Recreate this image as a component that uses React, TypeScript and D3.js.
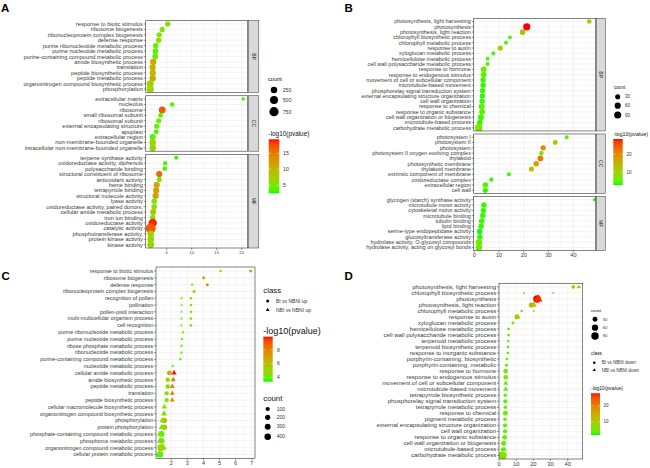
import React from "react";
import * as d3 from "d3";

const FONT = "'Liberation Sans', Arial, Helvetica, sans-serif";
const GRID = "#ebebeb";
const BORDER = "#333333";
const TXT = "#3a3a3a";

// ---------------- Panel A ----------------
const aBPCats = ["response to biotic stimulus", "ribosome biogenesis", "ribonucleoprotein complex biogenesis", "defense response", "purine ribonucleotide metabolic process", "purine nucleotide metabolic process", "purine-containing compound metabolic process", "amide biosynthetic process", "translation", "peptide biosynthetic process", "peptide metabolic process", "organonitrogen compound biosynthetic process", "phosphorylation"];
const aBPX = [5.2, 4.1, 3.5, 3.4, 2.8, 2.75, 2.7, 2.3, 2.2, 2.2, 2.2, 1.7, 1.7];
const aBPP = [6, 5.5, 5.5, 6, 4, 4, 4, 11, 10, 10, 10.5, 7.5, 7];
const aBPN = [120, 110, 130, 140, 150, 160, 170, 230, 220, 225, 240, 330, 360];

const aCCCats = ["extracellular matrix", "nucleolus", "ribosome", "small ribosomal subunit", "ribosomal subunit", "external encapsulating structure", "apoplast", "extracellular region", "non-membrane-bounded organelle", "intracellular non-membrane-bounded organelle"];
const aCCX = [20.3, 6.1, 4.1, 3.8, 3.4, 3.0, 2.9, 2.2, 2.2, 2.2];
const aCCP = [3, 3.5, 17, 4, 4.5, 4, 3.5, 3.5, 7, 7];
const aCCN = [25, 70, 300, 90, 110, 100, 95, 200, 260, 255];

const aMFCats = ["terpene synthase activity", "oxidoreductase activity,  diphenols", "polysaccharide binding", "structural constituent of ribosome", "antioxidant activity", "heme binding", "tetrapyrrole binding", "structural molecule activity", "lyase activity", "oxidoreductase activity,  paired donors,", "cellular amide metabolic process", "iron ion binding", "oxidoreductase activity", "catalytic activity", "phosphotransferase activity,", "protein kinase activity", "kinase activity"];
const aMFX = [6.9, 4.7, 4.6, 3.5, 3.5, 3.0, 2.9, 2.8, 2.5, 2.5, 2.3, 2.2, 2.2, 1.8, 1.8, 1.8, 1.8];
const aMFP = [3, 3.5, 3.5, 16, 4.5, 12, 12, 11.5, 4.5, 5.5, 9, 5, 19, 17, 7, 7, 7];
const aMFN = [45, 60, 75, 220, 110, 200, 210, 230, 130, 150, 200, 140, 560, 950, 300, 290, 310];

const aTicks = [5, 10, 15, 20];
const aMinor = [2.5, 7.5, 12.5, 17.5];
const aCountLegend = [250, 500, 750];
const aColorTicks = [5, 10, 15];

// ---------------- Panel B ----------------
const bBPCats = ["photosynthesis, light harvesting", "photosynthesis", "photosynthesis, light reaction", "chlorophyll biosynthetic process", "chlorophyll metabolic process", "response to auxin", "xyloglucan metabolic process", "hemicellulose metabolic process", "cell wall polysaccharide metabolic process", "response to hormone", "response to endogenous stimulus", "movement of cell or subcellular component", "microtubule-based movement", "phosphorelay signal transduction system", "external encapsulating structure organization", "cell wall organization", "response to chemical", "response to organic substance", "cell wall organization or biogenesis", "microtubule-based process", "carbohydrate metabolic process"];
const bBPX = [46.4, 21.2, 19.5, 14.4, 12.8, 10.5, 7.7, 5.4, 5.4, 3.8, 3.8, 3.6, 3.6, 3.4, 3.3, 3.2, 3.0, 3.2, 2.7, 2.3, 1.8];
const bBPP = [12, 28.5, 13, 4, 4.5, 11, 4, 4, 4, 6, 5, 3.5, 3.5, 3.5, 3.5, 3.5, 5, 4.5, 4, 3.5, 7];
const bBPN = [20, 100, 45, 10, 12, 35, 12, 10, 11, 45, 45, 35, 35, 35, 35, 35, 55, 50, 55, 40, 115];

const bCCCats = ["photosystem I", "photosystem II", "photosystem", "photosystem II oxygen evolving complex", "thylakoid", "photosynthetic membrane", "thylakoid membrane", "extrinsic component of membrane", "oxidoreductase complex", "extracellular region", "cell wall"];
const bCCX = [37.3, 32.7, 27.8, 27.1, 26.7, 25, 23.1, 14, 6.9, 4.5, 4.5];
const bCCP = [4, 12, 20, 7, 22, 17, 12, 4, 3.5, 4.5, 3.5];
const bCCN = [10, 25, 35, 20, 45, 40, 30, 15, 15, 40, 35];

const bMFCats = ["glycogen (starch) synthase activity", "microtubule motor activity", "cytoskeletal motor activity", "microtubule binding", "tubulin binding", "lipid binding", "serine-type endopeptidase activity", "glucosyltransferase activity", "hydrolase activity,  O-glycosyl compounds", "hydrolase activity,  acting on glycosyl bonds"];
const bMFX = [48.6, 3.9, 3.7, 3.5, 3.0, 2.8, 2.2, 2.3, 1.9, 1.9];
const bMFP = [3, 3.5, 3.5, 3.5, 3.5, 3.5, 3, 3.5, 6, 6];
const bMFN = [6, 35, 35, 40, 40, 40, 40, 40, 70, 75];

const bTicks = [0, 10, 20, 30, 40];
const bMinor = [5, 15, 25, 35, 45];
const bCountLegend = [30, 60, 90];
const bColorTicks = [10, 20];

// ---------------- Panel C ----------------
const cCats = ["response to biotic stimulus", "ribosome biogenesis", "defense response", "ribonucleoprotein complex biogenesis", "recognition of pollen", "pollination", "pollen-pistil interaction", "multi-multicellular organism process", "cell recognition", "purine ribonucleotide metabolic process", "purine nucleotide metabolic process", "ribose phosphate metabolic process", "ribonucleotide metabolic process", "purine-containing compound metabolic process", "nucleotide metabolic process", "cellular amide metabolic process", "amide biosynthetic process", "peptide metabolic process", "translation", "peptide biosynthetic process", "cellular macromolecule biosynthetic process", "organonitrogen compound biosynthetic process", "phosphorylation", "protein phosphorylation", "phosphate-containing compound metabolic process", "phosphorus metabolic process", "organonitrogen compound metabolic process", "cellular protein metabolic process"];
const cBIX = [6.93, 4.01, 4.24, 3.41, 3.22, 3.22, 3.22, 3.22, 3.22, null, null, null, null, null, null, 1.88, 1.78, 1.78, 1.71, 1.71, null, null, 1.57, 1.57, 1.4, 1.4, 1.35, 1.3];
const cBIP = [7.5, 6.5, 7.5, 5.5, 4.5, 4.5, 4.5, 4.5, 4.5, null, null, null, null, null, null, 6.5, 5, 5, 4.5, 4.5, null, null, 6, 6, 4.2, 4.2, 5.5, 4];
const cBIN = [25, 30, 30, 30, 20, 20, 20, 20, 20, null, null, null, null, null, null, 150, 120, 120, 110, 110, null, null, 250, 230, 300, 300, 450, 380];
const cNBIX = [5.07, null, 3.29, null, 2.64, 2.64, 2.64, 2.64, 2.64, 2.73, 2.66, 2.64, 2.64, 2.56, 2.09, 2.17, 2.12, 2.06, 2.06, 2.06, 1.57, 1.55, 1.44, 1.4, 1.3, 1.3, 1.5, 1.25];
const cNBIP = [5, null, 4.5, null, 4, 4, 4, 4, 4, 4.5, 4.2, 4, 4, 4.2, 3.6, 9.8, 8.3, 8, 8, 8, 4.5, 4.5, 4.5, 4, 4, 4, 5, 3.8];
const cNBIN = [20, null, 20, null, 15, 15, 15, 15, 15, 20, 20, 18, 18, 22, 15, 110, 90, 90, 80, 80, 120, 150, 150, 140, 180, 180, 300, 250];

const cTicks = [2, 3, 4, 5, 6, 7];
const cMinor = [1.5, 2.5, 3.5, 4.5, 5.5, 6.5];
const cCountLegend = [100, 200, 300, 400];
const cColorTicks = [4, 6, 8];
const cClasses = ["BI vs NBNI up", "NBI vs NBNI up"];

// ---------------- Panel D ----------------
const dCats = ["photosynthesis, light harvesting", "chlorophyll biosynthetic process", "photosynthesis", "photosynthesis, light reaction", "chlorophyll metabolic process", "response to auxin", "xyloglucan metabolic process", "hemicellulose metabolic process", "cell wall polysaccharide metabolic process", "terpenoid metabolic process", "terpenoid biosynthetic process", "response to inorganic substance", "porphyrin-containing, biosynthetic", "porphyrin-containing, metabolic", "response to hormone", "response to endogenous stimulus", "movement of cell or subcellular component", "microtubule-based movement", "tetrapyrrole biosynthetic process", "phosphorelay signal transduction system", "tetrapyrrole metabolic process", "response to chemical", "pigment metabolic process", "external encapsulating structure organization", "cell wall organization", "response to organic substance", "cell wall organization or biogenesis", "microtubule-based process", "carbohydrate metabolic process"];
const dBIX = [43.2, 14.5, 22.1, 18.8, 13.2, 10.3, 8.1, 5.6, 5.6, 5.4, 5.2, 5.2, 4.6, 4.3, 3.9, 3.9, null, null, 3.7, 3.7, 3.7, 3.7, 3.5, 3.5, 3.5, 3.3, 2.7, 2.3, 2.2];
const dBIP = [12, 4, 28, 12, 4.5, 11, 4, 4, 4, 3.5, 3.5, 3.5, 4, 4, 6, 5, null, null, 3.5, 3.5, 3.5, 5, 3.5, 3.5, 3.5, 4.5, 4, 3.5, 7];
const dBIN = [14, 6, 95, 35, 7, 28, 8, 7, 8, 7, 7, 7, 8, 9, 25, 25, null, null, 12, 18, 13, 30, 14, 20, 20, 28, 32, 22, 110];
const dNBIX = [46.5, 31.6, 22.8, 20.3, 20.3, 11.0, null, null, null, null, null, null, null, null, null, null, 3.9, 3.9, null, null, null, null, null, null, null, null, null, 3.3, null];
const dNBIP = [10, 4, 27, 12, 4.5, 10, null, null, null, null, null, null, null, null, null, null, 3.5, 3.5, null, null, null, null, null, null, null, null, null, 3.5, null];
const dNBIN = [12, 6, 80, 30, 6, 24, null, null, null, null, null, null, null, null, null, null, 18, 18, null, null, null, null, null, null, null, null, null, 14, null];

const dTicks = [0, 10, 20, 30, 40];
const dMinor = [5, 15, 25, 35, 45];
const dCountLegend = [30, 60, 90];
const dColorTicks = [10, 20];
const dClasses = ["BI vs NBNI down", "NBI vs NBNI down"];

// ---------------- helpers ----------------
type Pt = { cat: string; x: number; p: number; n: number; shape: "circle" | "triangle" };

function pts(cats: string[], xs: (number | null)[], ps: (number | null)[], ns: (number | null)[], shape: "circle" | "triangle"): Pt[] {
  const out: Pt[] = [];
  cats.forEach((c, i) => {
    if (xs[i] != null) out.push({ cat: c, x: xs[i] as number, p: ps[i] as number, n: ns[i] as number, shape });
  });
  return out;
}

function makeColor(lo: number, hi: number) {
  const s = d3.scaleLinear<string>().domain([lo, hi]).range(["#00ff00", "#ff0000"]).interpolate(d3.interpolateLab).clamp(true);
  return (v: number) => s(v);
}

function makeSize(d0: number, d1: number, r0: number, r1: number) {
  const t = d3.scaleLinear().domain([d0, d1]).range([0, 1]).clamp(true);
  const r = d3.scaleLinear().domain([0, 1]).range([r0, r1]);
  return (v: number) => r(Math.sqrt(t(v)));
}

function triPath(r: number) {
  return d3.symbol().type(d3.symbolTriangle).size(Math.PI * r * r * 0.85)() as string;
}

function Mark({ shape, cx, cy, r, fill }: { shape: string; cx: number; cy: number; r: number; fill: string }) {
  if (shape === "circle") return <circle cx={cx} cy={cy} r={r} fill={fill} />;
  return <path transform={`translate(${cx},${cy})`} d={triPath(r)} fill={fill} />;
}

type Facet = { name?: string; cats: string[]; points: Pt[] };

function DotPanel(props: {
  id: string; facets: Facet[]; top: number; bottom: number; gap: number; left: number; right: number;
  xDomain: [number, number]; majors: number[]; minors: number[]; tickFs: number; tickY: number;
  labelFs: number; color: (v: number) => string; size: (v: number) => number; stripW?: number;
}) {
  const { id, facets, top, bottom, gap, left, right, xDomain, majors, minors, tickFs, tickY, labelFs, color, size, stripW = 10 } = props;
  const x = d3.scaleLinear().domain(xDomain).range([left, right]);
  const total = d3.sum(facets, (f) => f.cats.length + 0.2);
  const step = (bottom - top - gap * (facets.length - 1)) / total;
  let cur = top;
  const laid = facets.map((f, fi) => {
    const h = (f.cats.length + 0.2) * step;
    const y = d3.scalePoint<string>().domain(f.cats).range([cur, cur + h]).padding(0.6);
    const o = { f, y, y0: cur, y1: cur + h, fi };
    cur += h + gap;
    return o;
  });
  const last = laid[laid.length - 1];
  return (
    <g>
      {laid.map(({ f, y, y0, y1, fi }) => {
        const cid = `${id}-clip-${fi}`;
        return (
          <g key={fi}>
            <defs>
              <clipPath id={cid}>
                <rect x={left} y={y0} width={right - left} height={y1 - y0} />
              </clipPath>
            </defs>
            <rect x={left} y={y0} width={right - left} height={y1 - y0} fill="#fff" />
            {minors.map((v) => (
              <line key={"m" + v} x1={x(v)} x2={x(v)} y1={y0} y2={y1} stroke={GRID} strokeWidth={0.3} />
            ))}
            {majors.map((v) => (
              <line key={"M" + v} x1={x(v)} x2={x(v)} y1={y0} y2={y1} stroke={GRID} strokeWidth={0.6} />
            ))}
            {f.cats.map((c) => (
              <line key={"h" + c} x1={left} x2={right} y1={y(c)} y2={y(c)} stroke={GRID} strokeWidth={0.6} />
            ))}
            <g clipPath={`url(#${cid})`}>
              {f.points.map((p, i) => (
                <Mark key={i} shape={p.shape} cx={x(p.x)} cy={y(p.cat) as number} r={size(p.n)} fill={color(p.p)} />
              ))}
            </g>
            <rect x={left} y={y0} width={right - left} height={y1 - y0} fill="none" stroke={BORDER} strokeWidth={0.6} />
            {f.cats.map((c) => (
              <g key={"t" + c}>
                <line x1={left - 2} x2={left} y1={y(c)} y2={y(c)} stroke={BORDER} strokeWidth={0.5} />
                <text x={left - 2.8} y={y(c)} dy="0.35em" textAnchor="end" fontSize={labelFs} fill={TXT}>
                  {c}
                </text>
              </g>
            ))}
            {f.name && (
              <g>
                <rect x={right + 0.6} y={y0} width={stripW} height={y1 - y0} fill="#d9d9d9" stroke={BORDER} strokeWidth={0.5} />
                <text
                  transform={`translate(${right + 0.6 + stripW / 2},${(y0 + y1) / 2}) rotate(90)`}
                  textAnchor="middle"
                  dy="0.35em"
                  fontSize={5}
                  fill="#1a1a1a"
                >
                  {f.name}
                </text>
              </g>
            )}
          </g>
        );
      })}
      {majors.map((v) => (
        <g key={"xt" + v}>
          <line x1={x(v)} x2={x(v)} y1={last.y1} y2={last.y1 + 2} stroke={BORDER} strokeWidth={0.5} />
          <text x={x(v)} y={tickY} textAnchor="middle" fontSize={tickFs} fill={TXT}>
            {v}
          </text>
        </g>
      ))}
    </g>
  );
}

function ColorBar(props: { id: string; x: number; y: number; w: number; h: number; lo: number; hi: number; ticks: number[]; color: (v: number) => string; fs: number; labelX: number }) {
  const { id, x, y, w, h, lo, hi, ticks, color, fs, labelX } = props;
  const sc = d3.scaleLinear().domain([lo, hi]).range([y + h, y]);
  const stops = d3.range(0, 21).map((i) => i / 20);
  return (
    <g>
      <defs>
        <linearGradient id={id} x1="0" y1="1" x2="0" y2="0">
          {stops.map((t) => (
            <stop key={t} offset={t} stopColor={color(lo + t * (hi - lo))} />
          ))}
        </linearGradient>
      </defs>
      <rect x={x} y={y} width={w} height={h} fill={`url(#${id})`} />
      {ticks.map((v) => (
        <g key={v}>
          <line x1={x} x2={x + w * 0.2} y1={sc(v)} y2={sc(v)} stroke="#fff" strokeWidth={0.5} />
          <line x1={x + w * 0.8} x2={x + w} y1={sc(v)} y2={sc(v)} stroke="#fff" strokeWidth={0.5} />
          <text x={labelX} y={sc(v)} dy="0.35em" fontSize={fs} fill="#333">
            {v}
          </text>
        </g>
      ))}
    </g>
  );
}

function SizeLegend(props: { title: string; titleFs: number; tx: number; ty: number; dx: number; ys: number[]; values: number[]; size: (v: number) => number; labelX: number; fs: number }) {
  const { title, titleFs, tx, ty, dx, ys, values, size, labelX, fs } = props;
  return (
    <g>
      <text x={tx} y={ty} fontSize={titleFs} fill="#111">
        {title}
      </text>
      {values.map((v, i) => (
        <g key={v}>
          <circle cx={dx} cy={ys[i]} r={size(v)} fill="#000" />
          <text x={labelX} y={ys[i]} dy="0.35em" fontSize={fs} fill="#333">
            {v}
          </text>
        </g>
      ))}
    </g>
  );
}

function ClassLegend(props: { tx: number; ty: number; titleFs: number; dx: number; ys: number[]; labels: string[]; labelX: number; fs: number; r: number }) {
  const { tx, ty, titleFs, dx, ys, labels, labelX, fs, r } = props;
  return (
    <g>
      <text x={tx} y={ty} fontSize={titleFs} fill="#111">
        class
      </text>
      {labels.map((l, i) => (
        <g key={l}>
          <Mark shape={i === 0 ? "circle" : "triangle"} cx={dx} cy={ys[i]} r={r} fill="#000" />
          <text x={labelX} y={ys[i]} dy="0.35em" fontSize={fs} fill="#333">
            {l}
          </text>
        </g>
      ))}
    </g>
  );
}

export default function App() {
  // Panel A
  const aColor = makeColor(2.5, 19.4);
  const aSize = makeSize(20, 950, 1.5, 5.0);
  const aFacets: Facet[] = [
    { name: "BP", cats: aBPCats, points: pts(aBPCats, aBPX, aBPP, aBPN, "circle") },
    { name: "CC", cats: aCCCats, points: pts(aCCCats, aCCX, aCCP, aCCN, "circle") },
    { name: "MF", cats: aMFCats, points: pts(aMFCats, aMFX, aMFP, aMFN, "circle") },
  ];
  // Panel B
  const bColor = makeColor(2.9, 28.5);
  const bSize = makeSize(5, 115, 1.4, 3.8);
  const bFacets: Facet[] = [
    { name: "BP", cats: bBPCats, points: pts(bBPCats, bBPX, bBPP, bBPN, "circle") },
    { name: "CC", cats: bCCCats, points: pts(bCCCats, bCCX, bCCP, bCCN, "circle") },
    { name: "MF", cats: bMFCats, points: pts(bMFCats, bMFX, bMFP, bMFN, "circle") },
  ];
  // Panel C
  const cColor = makeColor(3.4, 9.9);
  const cSize = makeSize(15, 450, 1.1, 3.4);
  const cFacets: Facet[] = [
    { cats: cCats, points: [...pts(cCats, cBIX, cBIP, cBIN, "circle"), ...pts(cCats, cNBIX, cNBIP, cNBIN, "triangle")] },
  ];
  // Panel D
  const dColor = makeColor(1.5, 28);
  const dSize = makeSize(6, 110, 1.0, 4.0);
  const dFacets: Facet[] = [
    { cats: dCats, points: [...pts(dCats, dBIX, dBIP, dBIN, "circle"), ...pts(dCats, dNBIX, dNBIP, dNBIN, "triangle")] },
  ];

  return (
    <svg
      width={650}
      height={468}
      viewBox="0 0 650 468"
      style={{ position: "absolute", left: 0, top: 0, display: "block", background: "#fff" }}
      fontFamily={FONT}
    >
      <rect x={0} y={0} width={650} height={468} fill="#fff" />

      {/* Panel letters */}
      <text x={1} y={11.5} fontSize={11.5} fontWeight="bold" fill="#000">A</text>
      <text x={344.5} y={11.7} fontSize={11.5} fontWeight="bold" fill="#000">B</text>
      <text x={1.5} y={280} fontSize={11.5} fontWeight="bold" fill="#000">C</text>
      <text x={344.5} y={280} fontSize={11.5} fontWeight="bold" fill="#000">D</text>

      {/* Panel A */}
      <DotPanel
        id="pa" facets={aFacets} top={20.7} bottom={248} gap={3.3} left={145.7} right={247.7}
        xDomain={[0.8, 21.2]} majors={aTicks} minors={aMinor} tickFs={4.2} tickY={253.8}
        labelFs={5.7} color={aColor} size={aSize} stripW={10.5}
      />
      <SizeLegend title="count" titleFs={5.7} tx={268} ty={81} dx={274} ys={[90, 100, 111.7]} values={aCountLegend} size={aSize} labelX={282.7} fs={5.2} />
      <text x={268.5} y={136} fontSize={6.4} fill="#111">-log10(pvalue)</text>
      <ColorBar id="cba" x={268.7} y={139.3} w={10.6} h={54} lo={2.5} hi={19.4} ticks={aColorTicks} color={aColor} fs={5.2} labelX={283} />

      {/* Panel B */}
      <DotPanel
        id="pb" facets={bFacets} top={18.3} bottom={250.7} gap={3} left={473.7} right={595.7}
        xDomain={[-0.2, 49]} majors={bTicks} minors={bMinor} tickFs={5.6} tickY={257.2}
        labelFs={5.5} color={bColor} size={bSize} stripW={9}
      />
      <SizeLegend title="count" titleFs={4.6} tx={614} ty={88.5} dx={617.7} ys={[96.7, 105.7, 115]} values={bCountLegend} size={bSize} labelX={625} fs={4.5} />
      <text x={613.5} y={136} fontSize={5.4} fill="#111">-log10(pvalue)</text>
      <ColorBar id="cbb" x={613.3} y={139} w={9.4} h={46} lo={2.9} hi={28.5} ticks={bColorTicks} color={bColor} fs={4.5} labelX={626.5} />

      {/* Panel C */}
      <DotPanel
        id="pc" facets={cFacets} top={267} bottom={458.5} gap={0} left={156} right={255}
        xDomain={[1.05, 7.2]} majors={cTicks} minors={cMinor} tickFs={5.6} tickY={465.2}
        labelFs={5.4} color={cColor} size={cSize}
      />
      <ClassLegend tx={263.3} ty={292.7} titleFs={7.8} dx={267.7} ys={[301, 310]} labels={cClasses} labelX={276} fs={5} r={1.5} />
      <text x={263.3} y={333.5} fontSize={9} fill="#111">-log10(pvalue)</text>
      <ColorBar id="cbc" x={263.3} y={336.7} w={9.4} h={45} lo={3.4} hi={9.9} ticks={cColorTicks} color={cColor} fs={5} labelX={277} />
      <SizeLegend title="count" titleFs={7.8} tx={263.3} ty={400.5} dx={267.7} ys={[409, 417.3, 426.7, 436.7]} values={cCountLegend} size={cSize} labelX={276.7} fs={5} />

      {/* Panel D */}
      <DotPanel
        id="pd" facets={dFacets} top={283.3} bottom={459} gap={0} left={499} right={582.7}
        xDomain={[0, 48.7]} majors={dTicks} minors={dMinor} tickFs={5.8} tickY={465.5}
        labelFs={6} color={dColor} size={dSize}
      />
      <SizeLegend title="count" titleFs={4.2} tx={591} ty={312.3} dx={595} ys={[319.3, 327.7, 336]} values={dCountLegend} size={dSize} labelX={602.7} fs={4.2} />
      <ClassLegend tx={591} ty={355} titleFs={4.8} dx={594.3} ys={[362.7, 370]} labels={dClasses} labelX={601.7} fs={4.5} r={1.3} />
      <text x={591} y={390} fontSize={5} fill="#111">-log10(pvalue)</text>
      <ColorBar id="cbd" x={591} y={393.3} w={9} h={41.7} lo={1.5} hi={28} ticks={dColorTicks} color={dColor} fs={4.5} labelX={603.5} />
    </svg>
  );
}
